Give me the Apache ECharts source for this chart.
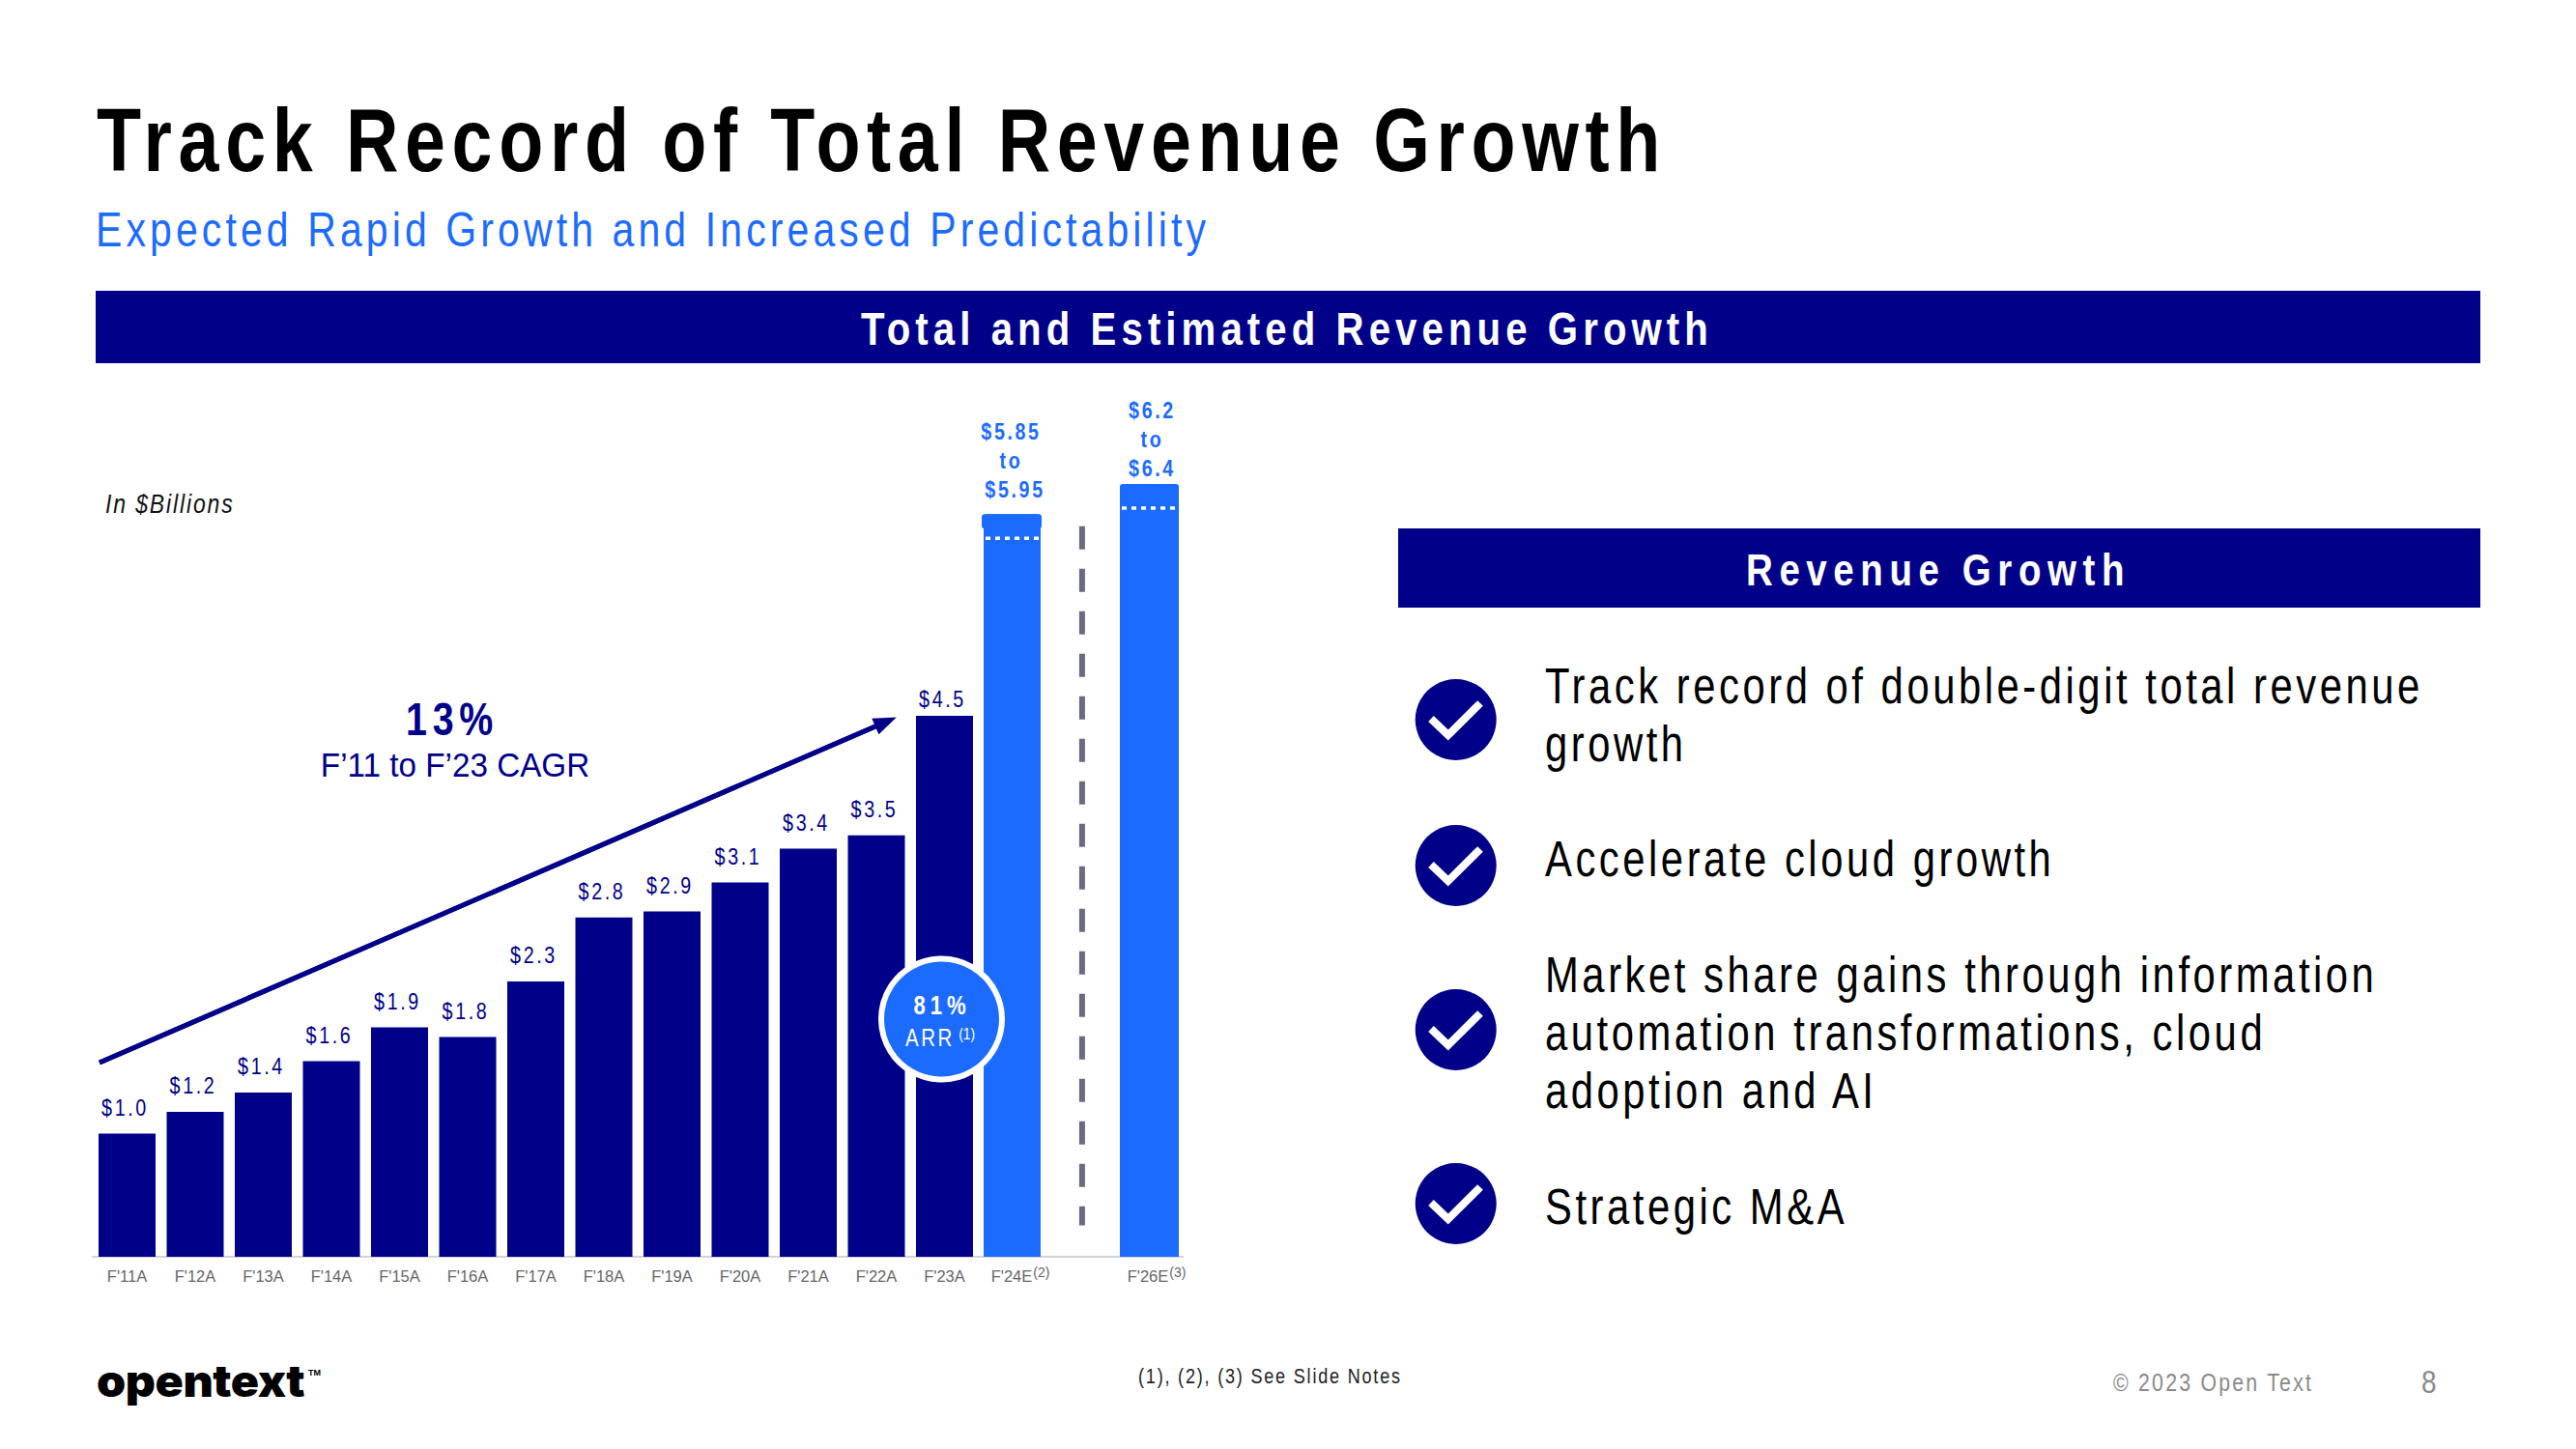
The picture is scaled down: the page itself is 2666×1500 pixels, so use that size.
<!DOCTYPE html>
<html><head><meta charset="utf-8">
<style>
html,body{margin:0;padding:0;background:#fff}
#c{width:2666px;height:1500px}
text[style*="92px"]{letter-spacing:8.1px}
text[style*="50px"]{letter-spacing:5px}
text[style*="51px"]{letter-spacing:4.3px}
text[style*="49px"]{letter-spacing:6.2px}
text[style*="47px"]{letter-spacing:8px}
text[style*="48px"]{letter-spacing:7px}
text[style*="24px"]{letter-spacing:3.2px}
text[style*="25px"]{letter-spacing:3px}
text[style*="28px"]{letter-spacing:2.3px}
text[style*="27px"]{letter-spacing:6px}
text[style*="22px"]{letter-spacing:2.2px}
text[style*="26px"]{letter-spacing:2.7px}
text[style*="46px"]{letter-spacing:-0.4px}
</style>
</head><body><div id="c"></div>
<script src="https://cdn.jsdelivr.net/npm/echarts@6/dist/echarts.min.js"></script>
<script>
const categories=["F'11A","F'12A","F'13A","F'14A","F'15A","F'16A","F'17A","F'18A","F'19A","F'20A","F'21A","F'22A","F'23A","F'24E","","F'26E"];
const actualValues=[1.02,1.2,1.36,1.62,1.9,1.82,2.28,2.81,2.86,3.1,3.38,3.49,4.48];
const actualLabels=["$1.0","$1.2","$1.4","$1.6","$1.9","$1.8","$2.3","$2.8","$2.9","$3.1","$3.4","$3.5","$4.5"];
const forecastIndex=[13,15];
const forecastLow=[5.95,6.2];
const forecastHigh=[6.15,6.4];
const forecastLabels=["$5.85\nto\n $5.95","$6.2\nto\n$6.4"];
const cagrX=[0.096,11.64];
const cagrY=[1.608,4.43];
const dividerX=[14.52,14.52];
const dividerY=[6.05,0.26];
const bullets=["Track record of double-digit total revenue\ngrowth","Accelerate cloud growth","Market share gains through information\nautomation transformations, cloud\nadoption and AI","Strategic M&A"];

const NAVY='#000089',BLUE='#1c6bff',SANS='"Liberation Sans",Arial,sans-serif',NARROW=0.82;
const chart=echarts.init(document.getElementById('c'),null,{renderer:'svg',width:2666,height:1500});
const T=(x,y,text,size,color,o,sx)=>({type:'text',z:100,x,y,scaleX:sx===undefined?NARROW:sx,style:Object.assign({text,fontSize:size,fill:color,fontFamily:SANS,align:'left',verticalAlign:'middle'},o||{})});
const R=(x,y,w,h,fill)=>({type:'rect',z:50,shape:{x,y,width:w,height:h},style:{fill}});
const bulletY=[745,896,1066,1246];
const bulletTextY=[[711,771],[890],[1010,1070,1130],[1250]];
const graphics=[
 T(100,145,'Track Record of Total Revenue Growth',92,'#000',{fontWeight:'bold'}),
 T(99,238,'Expected Rapid Growth and Increased Predictability',50,BLUE),
 R(99,301,2468,75,NAVY),
 T(1332,340,'Total and Estimated Revenue Growth',49,'#fff',{fontWeight:'bold',align:'center'}),
 R(1447,547,1120,82,NAVY),
 T(2006,590,'Revenue Growth',47,'#fff',{fontWeight:'bold',align:'center'}),
 T(109,521,'In $Billions',28,'#111',{fontStyle:'italic'}),
 T(468,744,'13%',48,NAVY,{fontWeight:'bold',align:'center'}),
 T(471,792,'F\u201911 to F\u201923 CAGR',35,NAVY,{align:'center'},0.95),
 {type:'circle',z:90,shape:{cx:974.5,cy:1055,r:62.5},style:{fill:BLUE,stroke:'#fff',lineWidth:6}},
 T(975,1041,'81%',27,'#fff',{fontWeight:'bold',align:'center'}),
 T(975,1074,'ARR{s|(1)}',25,'#fff',{align:'center',rich:{s:{fontSize:17,fill:'#fff',fontFamily:SANS,padding:[0,0,8,10]}}}),
 T(1178,1424,'(1), (2), (3) See Slide Notes',22,'#222'),
 T(2187,1431,'\u00A9 2023 Open Text',26,'#8a8a8a'),
 T(2506,1431,'8',34,'#8a8a8a'),
 T(100,1429,'opentext',46,'#000',{fontFamily:'Inter,"Open Sans",sans-serif',fontWeight:900},1.05),
 T(319,1421,'TM',9,'#000',{fontWeight:'bold'},1)
];
bulletY.forEach((cy,i)=>{
 graphics.push({type:'circle',z:50,shape:{cx:1506.7,cy,r:42},style:{fill:NAVY}});
 graphics.push({type:'polyline',z:60,shape:{points:[[1481,cy-1],[1498.7,cy+16],[1532,cy-17]]},style:{stroke:'#fff',fill:'none',lineWidth:8}});
 bullets[i].split('\n').forEach((line,j)=>graphics.push(T(1599,bulletTextY[i][j],line,51,'#000')));
});
chart.setOption({
 animation:false,
 backgroundColor:'#fff',
 grid:{left:96.25,top:301,width:1128,height:1000,containLabel:false},
 xAxis:[{type:'category',data:categories,axisTick:{show:false},
   axisLine:{lineStyle:{color:'#d2d2da',width:2}},
   axisLabel:{interval:0,margin:20,verticalAlign:'middle',color:'#666',fontSize:16.5,fontFamily:SANS,
     formatter:v=>v==="F'24E"?'{b|'+v+'}{s|(2)}':v==="F'26E"?'{b|'+v+'}{s|(3)}':v,
     rich:{b:{fontSize:16.5,color:'#666',fontFamily:SANS,padding:[0,0,0,16]},s:{fontSize:14,color:'#666',fontFamily:SANS,padding:[0,0,8,1]}}}},
   {type:'value',min:0,max:16,show:false}],
 yAxis:{type:'value',min:0,max:8,show:false},
 series:[
  {type:'bar',xAxisIndex:0,data:actualValues,barWidth:59,itemStyle:{color:NAVY},z:2},
  {type:'custom',xAxisIndex:0,z:3,data:actualValues.map((v,i)=>[i,v]),encode:{x:0,y:1},
   renderItem:(params,api)=>{
    const top=api.coord([api.value(0),api.value(1)]),i=params.dataIndex;
    return {type:'text',x:top[0]-2,y:top[1]-(i===12?17:27),scaleX:NARROW,style:{text:actualLabels[i],align:'center',verticalAlign:'middle',fontSize:24,fontFamily:SANS,fill:NAVY}};
   }},
  {type:'custom',xAxisIndex:0,z:3,data:forecastIndex.map((x,i)=>[x,forecastLow[i],forecastHigh[i],i]),encode:{x:0,y:[1,2]},
   renderItem:(params,api)=>{
    const idx=api.value(3),base=api.coord([api.value(0),0]),lo=api.coord([api.value(0),api.value(1)]),hi=api.coord([api.value(0),api.value(2)]);
    const w=idx===0?59:61,cx=base[0]+(idx===0?-0.5:0.5),left=cx-w/2;
    const kids=[{type:'rect',shape:{x:left,y:hi[1],width:w,height:base[1]-hi[1],r:[3,3,0,0]},style:{fill:BLUE}}];
    if(idx===0)kids.push({type:'rect',shape:{x:left-2,y:hi[1],width:w+3,height:15,r:3},style:{fill:BLUE}});
    kids.push({type:'line',shape:{x1:left+2,y1:lo[1],x2:left+w-2,y2:lo[1]},style:{stroke:'#fff',lineWidth:3.5,lineDash:[5,5]}});
    kids.push({type:'text',x:idx===0?cx-1:cx+3,y:hi[1]-(idx===0?10:1),scaleX:NARROW,style:{text:forecastLabels[idx],align:'center',verticalAlign:'bottom',fontSize:24,fontWeight:'bold',fontFamily:SANS,fill:BLUE,lineHeight:30}});
    return {type:'group',children:kids};
   }},
  {type:'line',xAxisIndex:1,z:4,data:cagrX.map((x,i)=>[x,cagrY[i]]),symbol:'none',silent:true,lineStyle:{color:NAVY,width:5},
   markLine:{silent:true,symbol:['none','triangle'],symbolSize:[18,24],label:{show:false},lineStyle:{color:NAVY,width:5,type:'solid'},
     data:[[{coord:[cagrX[0],cagrY[0]]},{coord:[cagrX[1],cagrY[1]]}]]}},
  {type:'line',xAxisIndex:1,z:4,data:dividerX.map((x,i)=>[x,dividerY[i]]),symbol:'none',silent:true,lineStyle:{color:'#6a6a80',width:6,type:[24,20]}}
 ],
 graphic:graphics
});
</script></body></html>
